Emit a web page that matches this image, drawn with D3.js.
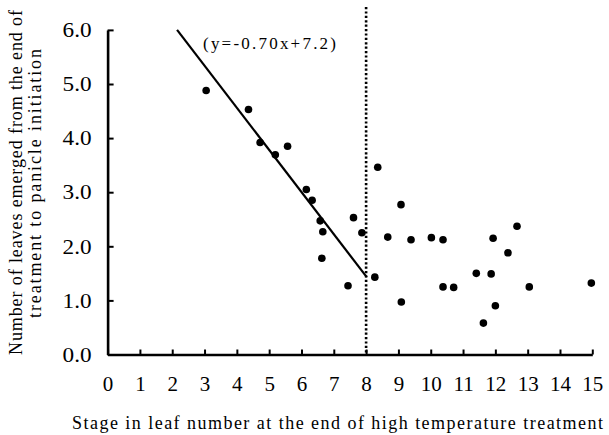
<!DOCTYPE html>
<html>
<head>
<meta charset="utf-8">
<script src="https://cdn.jsdelivr.net/npm/d3@7"></script>
<style>
  body { margin: 0; background: #fff; }
  svg { display: block; }
</style>
</head>
<body>
<div id="chart"></div>
<script>
// stage in leaf number at end of treatment
const stageX = [3.05, 4.36, 4.72, 5.19, 5.57, 6.15, 6.33, 6.58, 6.66, 6.63,
  7.44, 7.61, 7.87, 8.27, 8.36, 8.67, 9.08, 9.09, 9.39, 10.02,
  10.38, 10.38, 10.71, 11.41, 11.63, 11.87, 11.93, 12.0, 12.39, 12.67,
  13.05, 14.97];
// leaves emerged to panicle initiation
const leavesY = [4.88, 4.53, 3.92, 3.69, 3.85, 3.05, 2.85, 2.47, 2.27, 1.78,
  1.27, 2.53, 2.25, 1.43, 3.46, 2.17, 2.77, 0.97, 2.12, 2.16,
  2.12, 1.25, 1.24, 1.50, 0.58, 1.49, 2.15, 0.90, 1.88, 2.37,
  1.25, 1.32];
const fitLine = [[2.15, 6.0], [8.02, 1.43]];
const xTicks = d3.range(0, 16);
const yTicks = [0, 1, 2, 3, 4, 5, 6];
const equation = "(y=-0.70x+7.2)";
const xTitle = "Stage in leaf number at the end of high temperature treatment";
const yTitle = ["Number of leaves emerged from the end of", "treatment to panicle initiation"];

const width = 609, height = 435;
const font = "Liberation Serif, DejaVu Serif, serif";

const x = d3.scaleLinear().domain([0, 15]).range([107.6, 592.3]);
const y = d3.scaleLinear().domain([0, 6]).range([354.5, 29.9]);

const svg = d3.select("#chart").append("svg")
  .attr("width", width)
  .attr("height", height)
  .attr("font-family", font);

// dotted line at stage 8
svg.append("line")
  .attr("x1", x(8)).attr("x2", x(8))
  .attr("y1", 7).attr("y2", y(0))
  .attr("stroke", "#000")
  .attr("stroke-width", 2.6)
  .attr("stroke-dasharray", "2.2,2.2");

// x axis
const xAxis = svg.append("g")
  .attr("transform", `translate(0,${y(0)})`)
  .call(d3.axisBottom(x).tickValues(xTicks).tickSizeInner(-5).tickSizeOuter(0).tickPadding(22))
  .attr("font-family", font);
xAxis.select(".domain").attr("stroke-width", 2.6);
xAxis.selectAll(".tick line").attr("stroke-width", 2);
xAxis.selectAll(".tick text").attr("font-size", 21);

// y axis
const yAxis = svg.append("g")
  .attr("transform", `translate(${x(0)},0)`)
  .call(d3.axisLeft(y).tickValues(yTicks).tickFormat(d3.format(".1f"))
    .tickSizeInner(-6).tickSizeOuter(0).tickPadding(16))
  .attr("font-family", font);
yAxis.select(".domain").attr("stroke-width", 2.6);
yAxis.selectAll(".tick line").attr("stroke-width", 2);
yAxis.selectAll(".tick text").attr("font-size", 21)
  .attr("textLength", 29).attr("lengthAdjust", "spacingAndGlyphs");

// regression line
svg.append("path")
  .datum(fitLine)
  .attr("fill", "none")
  .attr("stroke", "#000")
  .attr("stroke-width", 2.2)
  .attr("d", d3.line().x(d => x(d[0])).y(d => y(d[1])));

// points
svg.selectAll("circle.pt")
  .data(stageX.map((v, i) => [v, leavesY[i]]))
  .enter()
  .append("circle")
  .attr("class", "pt")
  .attr("cx", d => x(d[0]))
  .attr("cy", d => y(d[1]))
  .attr("r", 3.8)
  .attr("fill", "#000");

// equation
svg.append("text")
  .attr("x", 203).attr("y", 49)
  .attr("font-size", 17)
  .attr("textLength", 133)
  .attr("lengthAdjust", "spacing")
  .text(equation);

// x title
svg.append("text")
  .attr("x", 72).attr("y", 429)
  .attr("font-size", 18)
  .attr("textLength", 531)
  .attr("lengthAdjust", "spacing")
  .text(xTitle);

// y title (two lines)
const yLines = [{t: yTitle[0], cx: 16, cy: 182.5, len: 345}, {t: yTitle[1], cx: 35, cy: 183.5, len: 269}];
svg.selectAll("text.ytitle")
  .data(yLines)
  .enter()
  .append("text")
  .attr("class", "ytitle")
  .attr("transform", d => `translate(${d.cx},${d.cy}) rotate(-90)`)
  .attr("text-anchor", "middle")
  .attr("dy", "0.32em")
  .attr("font-size", 18)
  .attr("textLength", d => d.len)
  .attr("lengthAdjust", "spacing")
  .text(d => d.t);
</script>
</body>
</html>
